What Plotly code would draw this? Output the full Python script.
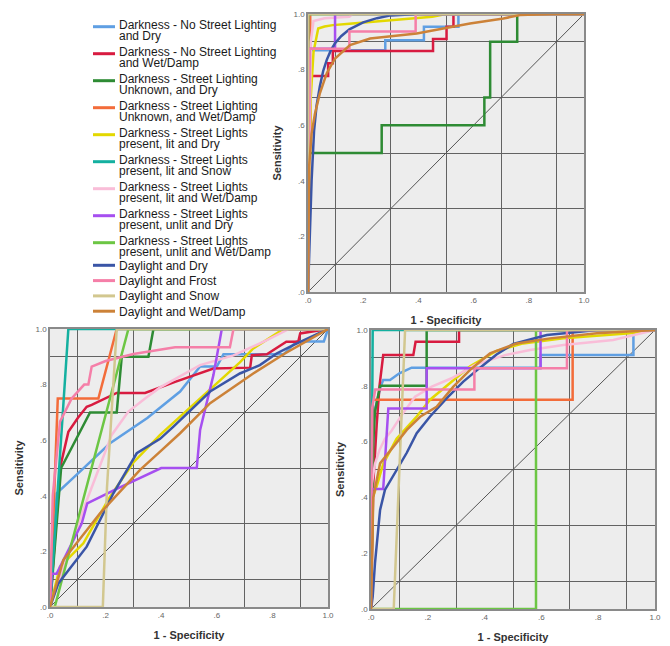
import plotly.graph_objects as go

# ---------------- data ----------------
series_names = [
    "Darkness - No Street Lighting and Dry",
    "Darkness - No Street Lighting and Wet/Damp",
    "Darkness - Street Lighting Unknown, and Dry",
    "Darkness - Street Lighting Unknown, and Wet/Damp",
    "Darkness - Street Lights present, lit and Dry",
    "Darkness - Street Lights present, lit and Snow",
    "Darkness - Street Lights present, lit and Wet/Damp",
    "Darkness - Street Lights present, unlit and Dry",
    "Darkness - Street Lights present, unlit and Wet/Damp",
    "Daylight and Dry",
    "Daylight and Frost",
    "Daylight and Snow",
    "Daylight and Wet/Damp",
]
legend_lines = [
    ["Darkness - No Street Lighting", "and Dry"],
    ["Darkness - No Street Lighting", "and Wet/Damp"],
    ["Darkness - Street Lighting", "Unknown, and Dry"],
    ["Darkness - Street Lighting", "Unknown, and Wet/Damp"],
    ["Darkness - Street Lights", "present, lit and Dry"],
    ["Darkness - Street Lights", "present, lit and Snow"],
    ["Darkness - Street Lights", "present, lit and Wet/Damp"],
    ["Darkness - Street Lights", "present, unlit and Dry"],
    ["Darkness - Street Lights", "present, unlit and Wet/Damp"],
    ["Daylight and Dry"],
    ["Daylight and Frost"],
    ["Daylight and Snow"],
    ["Daylight and Wet/Damp"],
]
series_colors = [
    "#5f9fe3", "#d81b40", "#2e8b34", "#f36c3a", "#e3d800", "#14b0a0", "#f9bdd8",
    "#a64ff0", "#6cc644", "#3a55a6", "#f57fa8", "#d2c78f", "#cc8238",
]

tick_values = [0, 0.2, 0.4, 0.6, 0.8, 1.0]
tick_labels = [".0", ".2", ".4", ".6", ".8", "1.0"]

# top panel (1 - specificity, sensitivity)
top_fpr = [
    [0, 0.01, 0.28, 0.28, 0.42, 0.42, 0.545, 0.545, 1],
    [0, 0.01, 0.01, 0.073, 0.073, 0.09, 0.09, 0.453, 0.453, 0.502, 0.502, 0.527, 0.527, 1],
    [0, 0, 0.267, 0.267, 0.639, 0.639, 0.66, 0.66, 0.758, 0.758, 1],
    [0, 0.008, 0.008, 1],
    [0, 0.01, 0.02, 0.03, 0.037, 0.06, 0.09, 0.15, 0.21, 0.3, 0.39, 0.45, 0.5, 1],
    [0, 0, 1],
    [0, 0.01, 0.02, 0.06, 0.15, 0.16, 1],
    [0, 0.005, 0.005, 0.098, 0.098, 1],
    [0, 0, 1],
    [0, 0.005, 0.013, 0.022, 0.031, 0.043, 0.055, 0.068, 0.083, 0.098, 0.12, 0.15, 0.2, 0.25, 0.3, 0.4, 1],
    [0, 0.005, 0.15, 0.15, 0.39, 0.39, 1],
    [0, 0, 1],
    [0, 0.002, 0.004, 0.013, 0.025, 0.043, 0.068, 0.098, 0.152, 0.225, 0.297, 0.394, 0.49, 0.587, 0.708, 0.768, 0.889, 1],
]
top_tpr = [
    [0, 0.87, 0.87, 0.906, 0.906, 0.954, 0.954, 1, 1],
    [0, 0.727, 0.777, 0.777, 0.823, 0.823, 0.867, 0.867, 0.91, 0.91, 0.954, 0.954, 1, 1],
    [0, 0.5, 0.5, 0.6, 0.6, 0.7, 0.7, 0.9, 0.9, 1, 1],
    [0, 0.6, 1, 1],
    [0, 0.7, 0.864, 0.92, 0.948, 0.955, 0.96, 0.965, 0.97, 0.975, 0.985, 0.99, 1, 1],
    [0, 1, 1],
    [0, 0.9, 0.975, 0.985, 0.99, 1, 1],
    [0, 0.625, 0.875, 0.875, 1, 1],
    [0, 1, 1],
    [0, 0.157, 0.40, 0.58, 0.67, 0.74, 0.795, 0.835, 0.87, 0.895, 0.92, 0.945, 0.97, 0.985, 0.995, 1, 1],
    [0, 0.875, 0.875, 0.937, 0.937, 1, 1],
    [0, 1, 1],
    [0, 0.2, 0.45, 0.57, 0.64, 0.715, 0.787, 0.84, 0.888, 0.912, 0.92, 0.93, 0.948, 0.966, 0.984, 0.996, 1, 1],
]

# bottom-left panel
left_fpr = [
    [0, 0.024, 0.1, 0.216, 0.35, 0.468, 0.54, 0.6, 0.624, 0.84, 0.887, 0.985, 1],
    [0, 0.036, 0.066, 0.1, 0.132, 0.15, 0.24, 0.342, 0.45, 0.588, 0.72, 0.726, 0.78, 0.85, 0.893, 0.9, 1],
    [0, 0.04, 0.144, 0.24, 0.258, 0.354, 0.372, 1],
    [0, 0.028, 0.174, 0.24, 1],
    [0, 0.036, 0.12, 0.216, 0.3, 0.396, 0.468, 0.588, 0.683, 0.731, 0.8, 0.84, 1],
    [0, 0.066, 1],
    [0, 0.126, 0.222, 0.282, 0.342, 0.396, 0.54, 0.66, 0.78, 0.86, 1],
    [0, 0.006, 0.024, 0.114, 0.134, 0.24, 0.4, 0.528, 0.54, 0.564, 0.588, 0.618, 1],
    [0, 0.017, 0.282, 1],
    [0, 0.03, 0.132, 0.228, 0.312, 0.396, 0.444, 0.576, 0.683, 0.755, 0.815, 0.875, 1],
    [0, 0.01, 0.036, 0.078, 0.123, 0.138, 0.15, 0.2, 0.3, 0.45, 0.647, 0.66, 1],
    [0, 0.19, 0.205, 0.24, 1],
    [0, 0.048, 0.18, 0.324, 0.396, 0.468, 0.576, 0.731, 0.845, 1],
]
left_tpr = [
    [0, 0.409, 0.48, 0.589, 0.68, 0.775, 0.865, 0.865, 0.909, 0.909, 0.955, 0.955, 1],
    [0, 0.5, 0.63, 0.68, 0.72, 0.727, 0.77, 0.77, 0.81, 0.858, 0.861, 0.906, 0.909, 0.954, 0.954, 0.984, 1],
    [0, 0.5, 0.7, 0.7, 0.9, 0.9, 1, 1],
    [0, 0.75, 0.75, 1, 1],
    [0, 0.145, 0.229, 0.397, 0.52, 0.619, 0.685, 0.795, 0.88, 0.93, 0.975, 1, 1],
    [0, 1, 1],
    [0, 0.367, 0.619, 0.703, 0.75, 0.79, 0.87, 0.905, 0.96, 1, 1],
    [0, 0.12, 0.12, 0.3, 0.373, 0.425, 0.5, 0.5, 0.637, 0.733, 0.835, 1, 1],
    [0, 0, 1, 1],
    [0, 0.085, 0.217, 0.409, 0.553, 0.605, 0.649, 0.775, 0.84, 0.87, 0.912, 0.942, 1],
    [0, 0.4, 0.667, 0.75, 0.8, 0.8, 0.865, 0.885, 0.91, 0.934, 0.934, 1, 1],
    [0, 0, 0.43, 1, 1],
    [0, 0.169, 0.337, 0.493, 0.559, 0.625, 0.733, 0.84, 0.912, 1],
]

# bottom-right panel
right_fpr = [
    [0, 0.01, 0.032, 0.043, 0.067, 0.1, 0.143, 0.597, 0.597, 0.924, 0.924, 1],
    [0, 0.008, 0.02, 0.03, 0.043, 0.149, 0.157, 0.31, 0.31, 1],
    [0, 0.008, 0.014, 0.032, 0.196, 0.196, 1],
    [0, 0.006, 0.71, 0.71, 1],
    [0, 0.006, 0.02, 0.043, 0.09, 0.161, 0.208, 0.266, 0.349, 0.442, 0.536, 0.677, 0.912, 1],
    [0, 0.006, 1],
    [0, 0.003, 0.014, 0.03, 0.049, 0.073, 0.108, 0.155, 0.214, 0.284, 0.366, 0.472, 0.56, 0.677, 0.853, 1],
    [0, 0.003, 0.043, 0.061, 0.196, 0.196, 0.597, 0.597, 1],
    [0, 0.581, 0.581, 1],
    [0, 0.006, 0.014, 0.032, 0.049, 0.09, 0.126, 0.161, 0.208, 0.266, 0.325, 0.384, 0.442, 0.501, 0.619, 0.736, 0.795, 1],
    [0, 0.003, 0.015, 0.364, 0.364, 0.69, 0.69, 1],
    [0, 0.08, 0.12, 1],
    [0, 0.008, 0.032, 0.079, 0.126, 0.173, 0.231, 0.29, 0.349, 0.419, 0.513, 0.63, 0.795, 1],
]
right_tpr = [
    [0, 0.7, 0.79, 0.821, 0.821, 0.845, 0.865, 0.865, 0.91, 0.91, 1, 1],
    [0, 0.45, 0.66, 0.8, 0.91, 0.91, 0.958, 0.958, 1, 1],
    [0, 0.6, 0.707, 0.8, 0.8, 1, 1],
    [0, 0.75, 0.75, 1, 1],
    [0, 0.4, 0.44, 0.52, 0.61, 0.69, 0.75, 0.8, 0.87, 0.925, 0.952, 0.97, 0.988, 1],
    [0, 1, 1],
    [0, 0.45, 0.52, 0.57, 0.61, 0.64, 0.695, 0.761, 0.797, 0.827, 0.875, 0.91, 0.928, 0.946, 0.964, 1],
    [0, 0.43, 0.43, 0.719, 0.719, 0.863, 0.863, 1, 1],
    [0, 0, 1, 1],
    [0, 0.044, 0.164, 0.355, 0.427, 0.498, 0.56, 0.63, 0.69, 0.755, 0.815, 0.865, 0.912, 0.95, 0.982, 0.994, 1, 1],
    [0, 0.713, 0.787, 0.787, 0.863, 0.863, 1, 1],
    [0, 0, 1, 1],
    [0, 0.4, 0.522, 0.582, 0.642, 0.689, 0.725, 0.797, 0.857, 0.916, 0.952, 0.97, 0.988, 1],
]

reference_x = [0, 1]
reference_y = [0, 1]

# ---------------- figure ----------------
W, H = 670, 646
fig = go.Figure()

panels = [
    ("x", "y", top_fpr, top_tpr),
    ("x2", "y2", left_fpr, left_tpr),
    ("x3", "y3", right_fpr, right_tpr),
]
for xa, ya, fx, fy in panels:
    fig.add_trace(go.Scatter(x=reference_x, y=reference_y, mode="lines",
                             line=dict(color="#555555", width=1),
                             xaxis=xa, yaxis=ya, showlegend=False, hoverinfo="skip"))
    for i, name in enumerate(series_names):
        fig.add_trace(go.Scatter(x=fx[i], y=fy[i], mode="lines", name=name,
                                 line=dict(color=series_colors[i], width=2.5),
                                 xaxis=xa, yaxis=ya, showlegend=False))


def px_x(p):
    return p / W


def px_y(p):
    return 1 - p / H


domains = {
    "1": ((308, 584), (14, 292)),
    "2": ((50, 328), (329, 607)),
    "3": ((371, 655), (330, 609)),
}

axis_common = dict(
    range=[0, 1], tickmode="array", tickvals=tick_values, ticktext=tick_labels,
    showgrid=False, zeroline=False, showline=True, mirror=True,
    linecolor="#8a8a8a", linewidth=1.5, ticks="",
    tickfont=dict(size=8, color="#666666"),
    minor=dict(tickmode="linear", tick0=0.1, dtick=0.2, showgrid=True,
               gridcolor="#626262", gridwidth=1.1),
    automargin=False, fixedrange=True,
)

layout_axes = {}
for k, ((xl, xr), (yt, yb)) in domains.items():
    xname = "xaxis" if k == "1" else "xaxis" + k
    yname = "yaxis" if k == "1" else "yaxis" + k
    xid = "x" if k == "1" else "x" + k
    yid = "y" if k == "1" else "y" + k
    layout_axes[xname] = dict(
        axis_common, domain=[px_x(xl), px_x(xr)], anchor=yid,
        title=dict(text="<b>1 - Specificity</b>", font=dict(size=11, color="#333333"), standoff=12),
    )
    layout_axes[yname] = dict(
        axis_common, domain=[px_y(yb), px_y(yt)], anchor=xid,
        title=dict(text="<b>Sensitivity</b>", font=dict(size=11, color="#333333"), standoff=10),
    )

# legend drawn from the series lists
shapes = []
annotations = []
for i, lines in enumerate(legend_lines):
    if len(lines) == 2:
        sy = 26.7 + 27 * i
        offs = [-1.8, 9.4]
    else:
        sy = 265.3 + 15.3 * (i - 9)
        offs = [0.4]
    shapes.append(dict(type="line", xref="paper", yref="paper",
                       x0=px_x(93), x1=px_x(115), y0=px_y(sy), y1=px_y(sy),
                       line=dict(color=series_colors[i], width=3)))
    for txt, off in zip(lines, offs):
        annotations.append(dict(text=txt, xref="paper", yref="paper",
                                x=px_x(117), y=px_y(sy + off), xanchor="left",
                                yanchor="middle", showarrow=False,
                                font=dict(size=12, color="#1a1a1a")))

fig.update_layout(
    width=W, height=H,
    margin=dict(l=0, r=0, t=0, b=0),
    paper_bgcolor="white", plot_bgcolor="#ededed",
    font=dict(family="Arial, Liberation Sans, sans-serif"),
    showlegend=False,
    shapes=shapes, annotations=annotations,
    **layout_axes,
)

fig.write_html("out.html", config={"displayModeBar": False},
               post_script="document.body.style.margin='0px';")
